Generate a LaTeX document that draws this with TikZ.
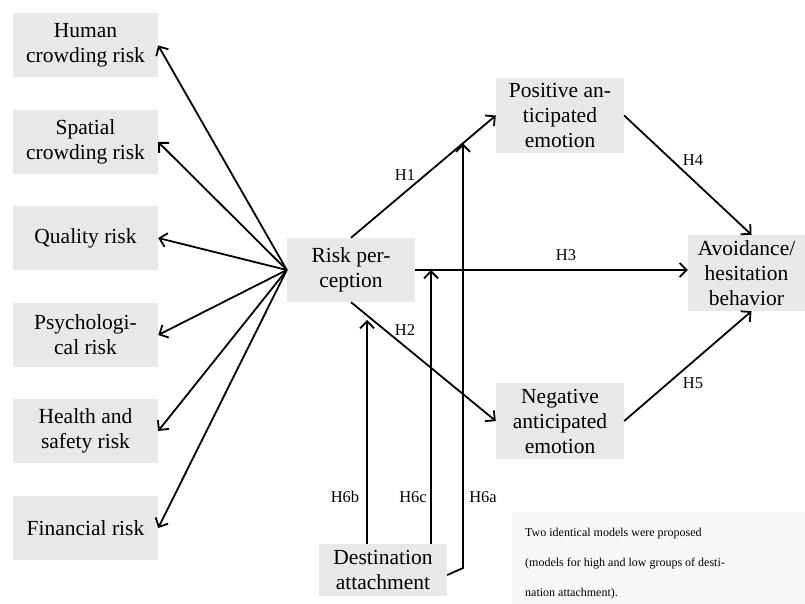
\documentclass[tikz,border=0pt]{standalone}
\usepackage{fontspec}
\setmainfont{Liberation Serif}
\usetikzlibrary{arrows.meta}
\definecolor{boxgray}{HTML}{E8E8E8}
\definecolor{notegray}{HTML}{F7F7F7}
\begin{document}
\begin{tikzpicture}[x=1pt,y=-1pt,
  box/.style={fill=boxgray, inner sep=0pt, align=center, font=\fontsize{21.5}{25}\selectfont},
  side/.style={box, minimum width=145pt, minimum height=64pt},
  mid/.style={box, minimum width=128pt},
  arr/.style={line width=1.8pt, -{Straight Barb[length=7pt,width=14pt,line width=1.8pt]}},
  lab/.style={font=\fontsize{16.5}{18}\selectfont, inner sep=0pt}]
\useasboundingbox (0,0) rectangle (805,604);

% left risk boxes
\node[side] (human) at (85.5,45.5) {Human\\crowding risk};
\node[side] (spatial) at (85.5,142) {Spatial\\crowding risk};
\node[side] (quality) at (85.5,238) {Quality risk};
\node[side] (psych) at (85.5,335) {Psychologi-\\cal risk};
\node[side] (health) at (85.5,431) {Health and\\safety risk};
\node[side] (fin) at (85.5,528) {Financial risk};

% central boxes
\node[mid, minimum height=64pt] (risk) at (351,270) {Risk per-\\ception};
\node[mid, minimum height=75pt] (pos) at (560,115.5) {Positive an-\\ticipated\\emotion};
\node[mid, minimum height=76pt] (neg) at (560,421) {Negative\\anticipated\\emotion};
\node[box, minimum width=117pt, minimum height=76pt] (avoid) at (746.5,273) {Avoidance/\\hesitation\\behavior};
\node[mid, minimum height=52pt] (dest) at (383,570) {Destination\\attachment};

% note
\node[fill=notegray, inner sep=0pt, minimum width=293pt, minimum height=92pt] (note) at (658.5,558) {};
\node[anchor=west, align=left, inner sep=0pt, font=\fontsize{12}{30}\selectfont] (notetext) at (525,564)
  {Two identical models were proposed\\(models for high and low groups of desti-\\nation attachment).};

% arrows to risk dimensions
\foreach \t in {human,spatial,quality,psych,health,fin}
  \draw[arr] (risk.west) -- (\t.east);

% hypotheses
\draw[arr] (risk.north) -- (pos.west);
\draw[arr] (risk.south) -- (neg.west);
\draw[arr] (risk.east) -- (risk.east -| avoid.west);
\draw[arr] (pos.east) -- ([xshift=5pt]avoid.north);
\draw[arr] (neg.east) -- ([xshift=5pt]avoid.south);

\coordinate (h6btip) at (367,320);
\coordinate (h6cx) at (431,0);
\coordinate (h6aturn) at (463,568);
\coordinate (h6atip) at (463,143.5);
\draw[arr] (dest.north -| h6btip) -- (h6btip);
\draw[arr] (dest.north -| h6cx) -- (h6cx |- risk.east);
\draw[arr] ([yshift=-5pt]dest.east) -- (h6aturn) -- (h6atip);

% labels
\node[lab] (l1) at (405,175) {H1};
\node[lab] (l2) at (405,330) {H2};
\node[lab] (l3) at (566,255) {H3};
\node[lab] (l4) at (693,160) {H4};
\node[lab] (l5) at (693,383) {H5};
\node[lab] (l6b) at (345,497) {H6b};
\node[lab] (l6c) at (413,497) {H6c};
\node[lab] (l6a) at (483,497) {H6a};
\end{tikzpicture}
\end{document}
